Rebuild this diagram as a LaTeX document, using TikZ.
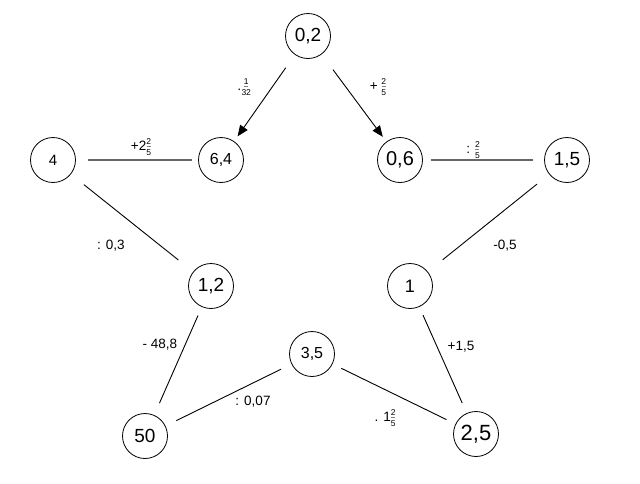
\documentclass[tikz,border=0pt]{standalone}
\usepackage{fontspec}
\setmainfont{Liberation Sans}
\usetikzlibrary{arrows.meta}
\newcommand\fr[2]{$\vcenter{\hbox{\fontsize{8.5}{8.5}\selectfont\shortstack{#1\\[-1.5pt]\textcolor{gray}{\rule{4pt}{0.5pt}}\\[-0.5pt]#2}}}$}
\tikzset{
  val/.style={circle, draw=black, line width=0.8pt, minimum size=45pt, inner sep=0pt, font=\fontsize{18}{18}\selectfont},
  lbl/.style={inner sep=0pt, font=\fontsize{13.5}{13.5}\selectfont},
  hline/.style={draw=black!60, line width=1.6pt},
  dline/.style={draw=black, line width=0.9pt},
  arr/.style={draw=black, line width=0.9pt, -{Triangle[length=11pt,width=9pt]}}
}
\begin{document}
\begin{tikzpicture}[x=1pt,y=-1pt]
\useasboundingbox[fill=white] (0,0) rectangle (640,483);
% values
\node[val, font=\fontsize{19}{19}\selectfont] (n02) at (308,36) {0,2};
\node[val, font=\fontsize{16}{16}\selectfont] (n64) at (221,160) {6,4};
\node[val, font=\fontsize{20}{20}\selectfont] (n06) at (400,160) {0,6};
\node[val, font=\fontsize{15}{15}\selectfont] (n4)  at (53,160) {4};
\node[val, font=\fontsize{19}{19}\selectfont] (n15) at (567,160) {1,5};
\node[val, font=\fontsize{19}{19}\selectfont] (n12) at (211,286) {1,2};
\node[val, font=\fontsize{18}{18}\selectfont] (n1)  at (410,286) {1};
\node[val, font=\fontsize{16}{16}\selectfont] (n35) at (312,354) {3,5};
\node[val, font=\fontsize{19}{19}\selectfont] (n50) at (145,436) {50};
\node[val, font=\fontsize{22}{22}\selectfont] (n25) at (476,434) {2,5};
% connectors
\draw[arr, shorten <=16pt, shorten >=6pt] (n02) -- (n64);
\draw[arr, shorten <=19pt, shorten >=6pt] (n02) -- (n06);
\draw[hline, shorten <=12.5pt, shorten >=6.5pt] (n4) -- (n64);
\draw[hline, shorten <=8pt, shorten >=11pt] (n06) -- (n15);
\draw[dline, shorten <=16.7pt, shorten >=18.8pt] (n4) -- (n12);
\draw[dline, shorten <=15.6pt, shorten >=19pt] (n15) -- (n1);
\draw[dline, shorten <=9.3pt, shorten >=13pt] (n12) -- (n50);
\draw[dline, shorten <=9pt, shorten >=11pt] (n1) -- (n25);
\draw[dline, shorten <=12pt, shorten >=11.6pt] (n50) -- (n35);
\draw[dline, shorten <=9.7pt, shorten >=10pt] (n35) -- (n25);
% labels
\node[lbl] (l1) at (244,87) {\raisebox{-3pt}{·}\fr{1}{32}};
\node[lbl] (l2) at (378,87) {+ \fr{2}{5}};
\node[lbl] (l3) at (141,147) {+2\fr{2}{5}};
\node[lbl] (l4) at (473,150) {: \fr{2}{5}};
\node[lbl] (l5) at (111,246) {: 0,3};
\node[lbl] (l6) at (505,246) {-0,5};
\node[lbl] (l7) at (160,345) {- 48,8};
\node[lbl] (l8) at (461,347) {+1,5};
\node[lbl] (l9) at (253,402) {: 0,07};
\node[lbl] (l10) at (385,418) {. 1\fr{2}{5}};
\end{tikzpicture}
\end{document}
